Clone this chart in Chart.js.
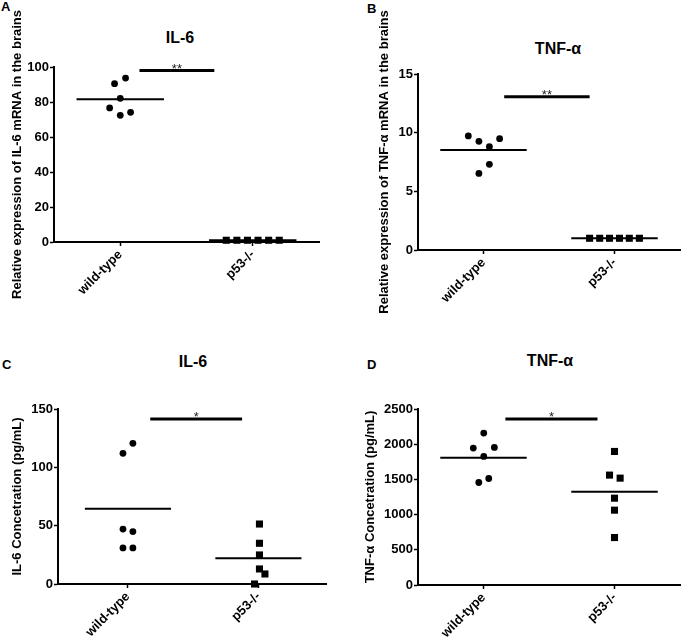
<!DOCTYPE html>
<html>
<head>
<meta charset="utf-8">
<script src="https://cdn.jsdelivr.net/npm/chart.js@4/dist/chart.umd.min.js"></script>
<style>
  body { margin: 0; background: #fff; }
  #page { position: relative; width: 685px; height: 641px; overflow: hidden; font-family: 'Liberation Sans', Arial, sans-serif; }
  canvas { position: absolute; }
  .title { position: absolute; width: 200px; text-align: center; font-weight: bold; font-size: 16px; line-height: 16px; color: #000; }
  .letter { position: absolute; font-weight: bold; font-size: 13px; line-height: 13px; color: #000; }
</style>
</head>
<body>
<div id="page">
  <div class="letter" style="left:1px;top:0px">A</div>
  <div class="letter" style="left:367px;top:2px">B</div>
  <div class="letter" style="left:2px;top:358px">C</div>
  <div class="letter" style="left:367px;top:358px">D</div>
  <div class="title" style="left:80px;top:30px">IL-6</div>
  <div class="title" style="left:458px;top:41px">TNF-α</div>
  <div class="title" style="left:93px;top:354px">IL-6</div>
  <div class="title" style="left:450px;top:353px">TNF-α</div>
  <canvas id="chartA" width="342" height="320" style="left:0;top:0"></canvas>
  <canvas id="chartB" width="343" height="320" style="left:342px;top:0"></canvas>
  <canvas id="chartC" width="342" height="321" style="left:0;top:320px"></canvas>
  <canvas id="chartD" width="343" height="321" style="left:342px;top:320px"></canvas>
</div>
<script>
const groups = ["wild-type", "p53-/-"];

// A - IL-6 mRNA in the brains
const il6MrnaWild = [90.5, 93.7, 82.1, 76.6, 74.1, 72.4];
const il6MrnaWildJitter = [-0.043, 0.04, 0, -0.08, 0.078, 0];
const il6MrnaKo = [1, 1, 1, 1, 1, 1];
const il6MrnaKoJitter = [-0.2, -0.12, -0.04, 0.04, 0.12, 0.2];

// B - TNF-a mRNA in the brains
const tnfMrnaWild = [9.72, 9.26, 8.81, 9.49, 7.3, 6.53];
const tnfMrnaWildJitter = [-0.116, -0.035, 0.045, 0.123, 0.045, -0.035];
const tnfMrnaKo = [1, 1, 1, 1, 1, 1];
const tnfMrnaKoJitter = [-0.19, -0.113, -0.038, 0.038, 0.113, 0.19];

// C - IL-6 concentration
const il6ConcWild = [112, 120.6, 47.1, 44.9, 30.9, 30.9];
const il6ConcWildJitter = [-0.038, 0.038, -0.038, 0.038, -0.038, 0.038];
const il6ConcKo = [51.4, 34.9, 24.9, 12.9, 8.6, 0];
const il6ConcKoJitter = [0.008, 0.008, 0.008, 0.008, 0.05, -0.03];

// D - TNF-a concentration
const tnfConcWild = [2158, 1945, 1954, 1826, 1513, 1456];
const tnfConcWildJitter = [0.002, -0.078, 0.083, 0.002, 0.04, -0.036];
const tnfConcKo = [1897, 1561, 1518, 1233, 1063, 674];
const tnfConcKoJitter = [0, -0.038, 0.043, 0, 0, 0];

const fontFamily = "'Liberation Sans', Arial, sans-serif";
Chart.defaults.font.family = fontFamily;
Chart.defaults.color = "#000";

function mean(arr) {
    return arr.reduce((a, b) => a + b, 0) / arr.length;
}

function points(values, jitter, group) {
    return values.map((v, i) => ({ x: group + jitter[i], y: v }));
}

function meanLine(values, group) {
    let m = mean(values);
    return {
        type: "line",
        data: [{ x: group - 0.33, y: m }, { x: group + 0.33, y: m }],
        borderColor: "#000",
        borderWidth: 2,
        pointRadius: 0,
        clip: false,
    };
}

function makePanel(p) {
    let sigPlugin = {
        id: "sigStar",
        afterDatasetsDraw(chart) {
            let ctx = chart.ctx;
            let xs = chart.scales.x, ys = chart.scales.y;
            ctx.save();
            ctx.font = "normal 13px " + fontFamily;
            ctx.fillStyle = "#222";
            ctx.textAlign = "center";
            ctx.textBaseline = "alphabetic";
            ctx.fillText(p.sig.label, xs.getPixelForValue((p.sig.from + p.sig.to) / 2), ys.getPixelForValue(p.sig.y) + 2);
            ctx.restore();
        },
    };

    return new Chart(document.getElementById(p.id), {
        type: "scatter",
        data: {
            datasets: [
                {
                    data: points(p.wild, p.wildJitter, 1),
                    pointStyle: "circle",
                    pointRadius: 3.4,
                    pointBorderWidth: 0,
                    backgroundColor: "#000",
                    clip: false,
                },
                {
                    data: points(p.ko, p.koJitter, 2),
                    pointStyle: "rect",
                    pointRadius: 5,
                    pointBorderWidth: 0,
                    backgroundColor: "#000",
                    clip: false,
                },
                meanLine(p.wild, 1),
                meanLine(p.ko, 2),
                {
                    type: "line",
                    data: [{ x: p.sig.from, y: p.sig.y }, { x: p.sig.to, y: p.sig.y }],
                    borderColor: "#000",
                    borderWidth: 3,
                    pointRadius: 0,
                    clip: false,
                },
            ],
        },
        options: {
            responsive: false,
            animation: false,
            devicePixelRatio: 1,
            layout: {
                padding: { left: 0, top: p.padTop, right: p.padRight, bottom: 0 },
            },
            plugins: {
                legend: { display: false },
                tooltip: { enabled: false },
            },
            scales: {
                x: {
                    type: "linear",
                    min: p.xMin,
                    max: p.xMax,
                    afterFit: (s) => { s.height = p.xHeight; },
                    afterBuildTicks: (s) => { s.ticks = [{ value: 1 }, { value: 2 }]; },
                    ticks: {
                        callback: (v) => groups[v - 1],
                        minRotation: 45,
                        maxRotation: 45,
                        padding: 1,
                        color: "#000",
                        font: { family: fontFamily, size: 13, weight: "bold" },
                    },
                    grid: {
                        drawOnChartArea: false,
                        drawTicks: true,
                        tickLength: 4,
                        tickWidth: 1.5,
                        tickColor: "#000",
                    },
                    border: { display: true, color: "#000", width: 2 },
                },
                y: {
                    min: 0,
                    max: p.yMax,
                    afterFit: (s) => { s.width = p.yWidth; },
                    ticks: {
                        stepSize: p.step,
                        padding: 1,
                        color: "#000",
                        callback: (v) => String(v),
                        font: { family: fontFamily, size: 13, weight: "bold" },
                    },
                    grid: {
                        drawOnChartArea: false,
                        drawTicks: true,
                        tickLength: 4,
                        tickWidth: 1.5,
                        tickColor: "#000",
                    },
                    border: { display: true, color: "#000", width: 2 },
                    title: {
                        display: true,
                        text: p.yTitle,
                        color: "#000",
                        padding: { top: p.titlePad, bottom: 0 },
                        font: { family: fontFamily, size: 13, weight: "bold" },
                    },
                },
            },
        },
        plugins: [sigPlugin],
    });
}

makePanel({
    id: "chartA",
    wild: il6MrnaWild, wildJitter: il6MrnaWildJitter,
    ko: il6MrnaKo, koJitter: il6MrnaKoJitter,
    yMax: 100, step: 20, xMin: 0.5, xMax: 2.5,
    yTitle: "Relative expression of IL-6 mRNA in the brains",
    sig: { from: 1.145, to: 1.71, y: 98, label: "**" },
    padTop: 67, padRight: 23, yWidth: 54, xHeight: 78, titlePad: 10,
});

makePanel({
    id: "chartB",
    wild: tnfMrnaWild, wildJitter: tnfMrnaWildJitter,
    ko: tnfMrnaKo, koJitter: tnfMrnaKoJitter,
    yMax: 15, step: 5, xMin: 0.5, xMax: 2.5,
    yTitle: "Relative expression of TNF-α mRNA in the brains",
    sig: { from: 1.158, to: 1.81, y: 13.07, label: "**" },
    padTop: 74, padRight: 2, yWidth: 76, xHeight: 70, titlePad: 35,
});

makePanel({
    id: "chartC",
    wild: il6ConcWild, wildJitter: il6ConcWildJitter,
    ko: il6ConcKo, koJitter: il6ConcKoJitter,
    yMax: 150, step: 50, xMin: 0.464, xMax: 2.518,
    yTitle: "IL-6 Concetration (pg/mL)",
    sig: { from: 1.171, to: 1.875, y: 141.4, label: "*" },
    padTop: 89, padRight: 16, yWidth: 58, xHeight: 57, titlePad: 10,
});

makePanel({
    id: "chartD",
    wild: tnfConcWild, wildJitter: tnfConcWildJitter,
    ko: tnfConcKo, koJitter: tnfConcKoJitter,
    yMax: 2500, step: 500, xMin: 0.5, xMax: 2.5,
    yTitle: "TNF-α Concetration (pg/mL)",
    sig: { from: 1.167, to: 1.87, y: 2358, label: "*" },
    padTop: 89, padRight: 2, yWidth: 76, xHeight: 56, titlePad: 21,
});
</script>
</body>
</html>
